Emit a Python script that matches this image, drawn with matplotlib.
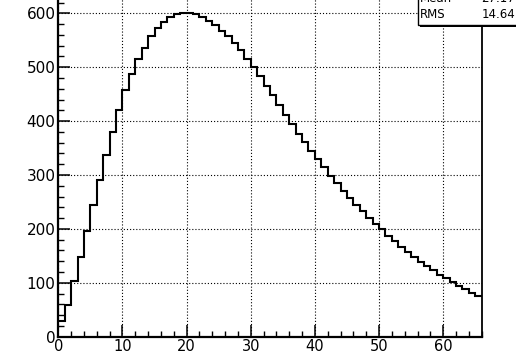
import numpy as np
import matplotlib
matplotlib.use("Agg")
import matplotlib.pyplot as plt
from matplotlib.patches import Rectangle
from matplotlib.ticker import MultipleLocator

# Histogram contents, one value per unit-wide bin starting at x = 0
bin_edges = np.arange(0, 67)
counts = [
    29, 59, 103, 148, 196, 244, 291, 337, 379, 421,
    458, 487, 515, 536, 557, 572, 584, 594, 599, 601,
    600, 598, 593, 586, 578, 568, 557, 545, 531, 516,
    500, 483, 466, 448, 430, 412, 394, 377, 361, 345,
    329, 314, 299, 285, 271, 258, 245, 233, 221, 210,
    199, 187, 177, 167, 157, 148, 139, 131, 123, 115,
    108, 101, 94, 88, 82, 76,
]

x_major = [0, 10, 20, 30, 40, 50, 60]
y_major = [0, 100, 200, 300, 400, 500, 600]

stat_names = ["Mean", "RMS"]
stat_values = ["27.17", "14.64"]

plt.rcParams["font.family"] = ["DejaVu Sans"]

W, H = 516, 355
fig = plt.figure(figsize=(W / 100, H / 100), dpi=100)
fig.patch.set_facecolor("white")

left_px, right_px = 58.3, 481.7
bottom_px, top_px = 18.3, 358.4
ax = fig.add_axes([left_px / W, bottom_px / H,
                   (right_px - left_px) / W, (top_px - bottom_px) / H])

ax.stairs(counts, bin_edges, baseline=None, color="black", linewidth=1.5, zorder=3)

ax.set_xlim(0, 66)
ax.set_ylim(0, 631)
ax.set_xticks(x_major)
ax.set_yticks(y_major)
ax.xaxis.set_minor_locator(MultipleLocator(2))
ax.yaxis.set_minor_locator(MultipleLocator(20))

ax.grid(True, which="major", color="black", linestyle=(0, (1, 1.8)), linewidth=0.8)

ax.tick_params(which="both", direction="in", top=False, right=False, colors="black")
ax.tick_params(which="major", length=8.5, width=1.1, labelsize=11)
ax.tick_params(which="minor", length=4.5, width=1.0)
ax.tick_params(axis="x", which="major", pad=1.5, labelsize=10.5)
ax.tick_params(axis="y", which="major", pad=2)

for side in ("left", "bottom"):
    ax.spines[side].set_linewidth(1.6)
ax.spines["right"].set_linewidth(1.3)
ax.spines["top"].set_visible(False)

# Statistics box in the upper right corner
bx0, by0 = 417.7, H - 25.0
bw, bh = 140.0, 60.0
fig.add_artist(Rectangle(((bx0 + 2) / W, (by0 - 2) / H), bw / W, bh / H,
                         transform=fig.transFigure, facecolor="black",
                         edgecolor="none", zorder=5))
fig.add_artist(Rectangle((bx0 / W, by0 / H), bw / W, bh / H,
                         transform=fig.transFigure, facecolor="white",
                         edgecolor="black", linewidth=1.0, zorder=6))

row_baselines = [2.5, 18.5]
for name, val, yb in zip(stat_names, stat_values, row_baselines):
    fig.text(420 / W, (H - yb) / H, name, fontsize=8.5, va="baseline",
             ha="left", zorder=7)
    fig.text(515 / W, (H - yb) / H, val, fontsize=8.5, va="baseline",
             ha="right", zorder=7)

fig.savefig("out.png", dpi=100)
